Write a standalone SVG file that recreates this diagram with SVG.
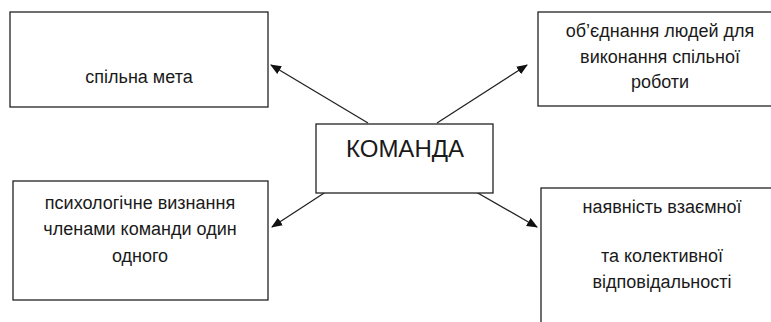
<svg xmlns="http://www.w3.org/2000/svg" width="771" height="322" viewBox="0 0 771 322">
<style>
.box{fill:#fff;stroke:#222;stroke-width:1.3}
.t{font-family:"Liberation Sans",Arial,sans-serif;font-size:18px;fill:#1a1a1a;text-anchor:middle}
.big{font-family:"Liberation Sans",Arial,sans-serif;font-size:24px;fill:#1a1a1a;text-anchor:middle}
.c{stroke:#222;stroke-width:1.3;fill:none;marker-end:url(#ah)}
</style>
<defs>
<marker id="ah" markerWidth="11" markerHeight="9" refX="10" refY="4.5" orient="auto" markerUnits="userSpaceOnUse">
<path d="M0,0 L11,4.5 L0,9 Z" fill="#111"/>
</marker>
</defs>
<rect width="771" height="322" fill="#fff"/>
<g id="connectors">
<line class="c" x1="368" y1="123" x2="271" y2="65"/>
<line class="c" x1="437" y1="123" x2="527" y2="65"/>
<line class="c" x1="361" y1="169" x2="272" y2="227"/>
<line class="c" x1="436" y1="169" x2="537" y2="227"/>
</g>
<g id="n-center">
<rect class="box" x="316" y="124" width="177" height="69"/>
<text class="big" x="405" y="157">КОМАНДА</text>
</g>
<g id="n-goal">
<rect class="box" x="10" y="12" width="258" height="95"/>
<text class="t" x="139" y="83">спільна мета</text>
</g>
<g id="n-union">
<rect class="box" x="538" y="12" width="240" height="94"/>
<text class="t" x="660" y="37">об’єднання людей для</text>
<text class="t" x="660" y="63">виконання спільної</text>
<text class="t" x="660" y="88">роботи</text>
</g>
<g id="n-psych">
<rect class="box" x="13" y="181" width="255" height="119"/>
<text class="t" x="140" y="209">психологічне визнання</text>
<text class="t" x="140" y="235">членами команди один</text>
<text class="t" x="140" y="262">одного</text>
</g>
<g id="n-resp">
<rect class="box" x="541" y="188" width="240" height="150"/>
<text class="t" x="662" y="213">наявність взаємної</text>
<text class="t" x="662" y="262">та колективної</text>
<text class="t" x="662" y="288">відповідальності</text>
</g>
</svg>
